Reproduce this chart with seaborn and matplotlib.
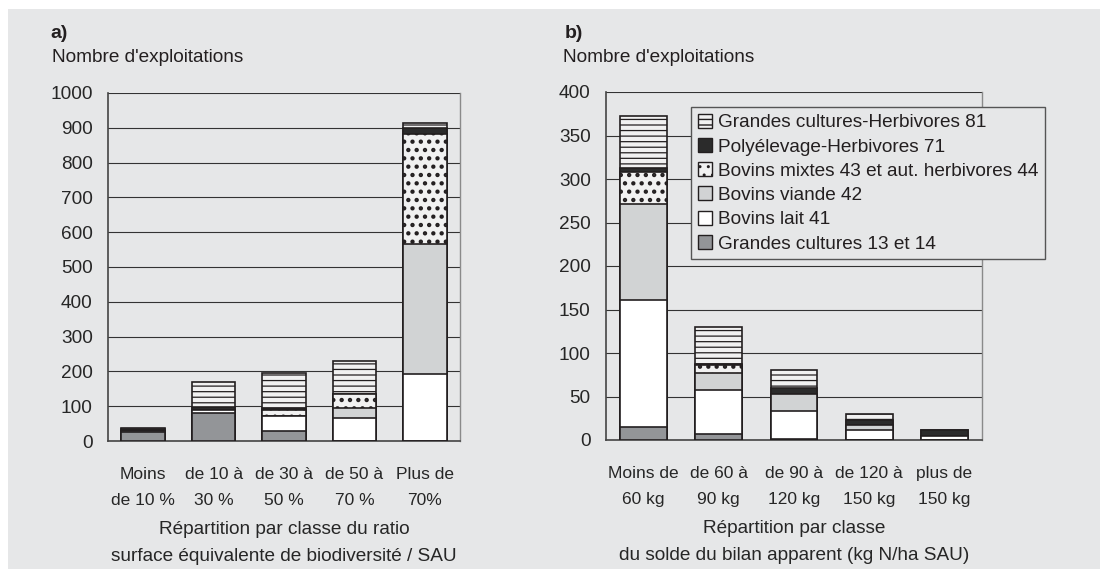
import matplotlib
matplotlib.use('Agg')
import numpy as np
import pandas as pd
import matplotlib.pyplot as plt
from matplotlib.patches import Patch, Rectangle
from matplotlib.ticker import FixedLocator, MultipleLocator
import seaborn as sns

sns.set_style("white")
plt.rcParams['font.family'] = ['Liberation Sans', 'DejaVu Sans']
plt.rcParams['hatch.linewidth'] = 1.0
plt.rcParams['text.color'] = '#231f20'

# data
groups = ['Grandes cultures 13 et 14', 'Bovins lait 41', 'Bovins viande 42',
          'Bovins mixtes 43 et aut. herbivores 44', 'Polyélevage-Herbivores 71',
          'Grandes cultures-Herbivores 81']

classes_a = ['Moins\nde 10 %', 'de 10 à\n30 %', 'de 30 à\n50 %', 'de 50 à\n70 %', 'Plus de\n70%']
gc_a     = [27, 81, 30, 0, 0]
lait_a   = [3, 9, 42, 65, 192]
viande_a = [0, 0, 0, 31, 375]
mixtes_a = [0, 0, 18, 38, 315]
poly_a   = [5, 8, 6, 0, 18]
gch_a    = [3, 72, 98, 96, 14]

classes_b = ['Moins de\n60 kg', 'de 60 à\n90 kg', 'de 90 à\n120 kg', 'de 120 à\n150 kg', 'plus de\n150 kg']
gc_b     = [15, 7, 1, 0, 0]
lait_b   = [146, 51, 32, 11, 5]
viande_b = [110, 19, 20, 6, 0]
mixtes_b = [37, 9, 0, 0, 0]
poly_b   = [5, 1, 7, 6, 6]
gch_b    = [59, 43, 21, 7, 0]

# styles
bg = '#e6e7e8'
ink = '#231f20'
faces    = ['#939598', '#ffffff', '#d1d3d4', '#f1f1f1', '#2b2b2b', '#f1f1f1']
hatches  = [None, None, None, '..', None, '---']
hatch_lw = [1.0, 1.0, 1.0, 1.9, 1.0, 0.9]

fig = plt.figure(figsize=(11, 5.69), dpi=100)
fig.patch.set_facecolor('white')
fig.patches.append(Rectangle((8/1100, 0), 1, 1 - 9/569, transform=fig.transFigure,
                             facecolor=bg, edgecolor='none', zorder=-10))

W, H = 1100, 569
ax_a = fig.add_axes([108/W, 1 - 441/H, (460-108)/W, (441-93)/H])
ax_b = fig.add_axes([606/W, 1 - 440/H, (982-606)/W, (440-92)/H])


def draw_panel(ax, classes, layers, ymax, ystep, xlabel):
    df = pd.DataFrame(dict(zip(groups, layers)))
    df['classe'] = classes
    cum = df[groups].cumsum(axis=1)
    # draw cumulative bars from the top layer down so each one covers the next
    for i in range(len(groups) - 1, -1, -1):
        g = groups[i]
        with plt.rc_context({'hatch.linewidth': hatch_lw[i]}):
            sns.barplot(x=df['classe'], y=cum[g], color=faces[i], hatch=hatches[i],
                        edgecolor=ink, linewidth=1.2, width=0.62, saturation=1,
                        errorbar=None, zorder=3, ax=ax)
    ax.set_facecolor('none')
    ax.set_xlim(-0.5, len(classes) - 0.5)
    ax.set_ylim(0, ymax)
    ax.yaxis.set_major_locator(MultipleLocator(ystep))
    ax.yaxis.grid(True, color='#333333', linewidth=0.8)
    ax.set_axisbelow(True)
    ax.set_ylabel('')
    ax.set_xlabel(xlabel, fontsize=13.7, linespacing=1.72, labelpad=10)
    ax.set_xticks(range(len(classes)))
    ax.set_xticklabels(classes, fontsize=12.5, linespacing=1.85)
    ax.xaxis.set_minor_locator(FixedLocator(np.arange(-0.5, len(classes), 1)))
    ax.tick_params(axis='x', which='major', length=0, pad=19)
    ax.tick_params(axis='x', which='minor', length=5, width=1, color='#444', direction='out')
    ax.tick_params(axis='y', length=5, width=1, color='#444', direction='out',
                   labelsize=13.7, pad=6)
    for s in ['left', 'bottom']:
        ax.spines[s].set_color('#444')
        ax.spines[s].set_linewidth(1.2)
    ax.spines['right'].set_color('#8a8a8a')
    ax.spines['right'].set_linewidth(1.0)
    ax.spines['top'].set_visible(False)


draw_panel(ax_a, classes_a, [gc_a, lait_a, viande_a, mixtes_a, poly_a, gch_a], 1000, 100,
           'Répartition par classe du ratio\nsurface équivalente de biodiversité / SAU')
draw_panel(ax_b, classes_b, [gc_b, lait_b, viande_b, mixtes_b, poly_b, gch_b], 400, 50,
           'Répartition par classe\ndu solde du bilan apparent (kg N/ha SAU)')

fig.text(50/W, 1 - 34/H, 'a)', fontsize=14, fontweight='bold', va='center')
fig.text(52/W, 1 - 58/H, "Nombre d'exploitations", fontsize=13.7, va='center')
fig.text(565/W, 1 - 34/H, 'b)', fontsize=14, fontweight='bold', va='center')
fig.text(563/W, 1 - 58/H, "Nombre d'exploitations", fontsize=13.7, va='center')

handles = []
for i in range(len(groups) - 1, -1, -1):
    with plt.rc_context({'hatch.linewidth': hatch_lw[i]}):
        handles.append(Patch(facecolor=faces[i], hatch=hatches[i], edgecolor=ink,
                             linewidth=1.0, label=groups[i]))
leg = ax_b.legend(handles=handles, loc='upper left', bbox_to_anchor=(691/W, 1 - 107/H),
                  bbox_transform=fig.transFigure, borderaxespad=0, fontsize=13.7,
                  handlelength=0.75, handleheight=0.75, handletextpad=0.3,
                  labelspacing=0.35, borderpad=0.35, fancybox=False, frameon=True,
                  edgecolor='#555555', facecolor=bg, framealpha=1)
leg.get_frame().set_linewidth(1.0)
leg.set_zorder(10)

fig.savefig('out.png', dpi=100)
